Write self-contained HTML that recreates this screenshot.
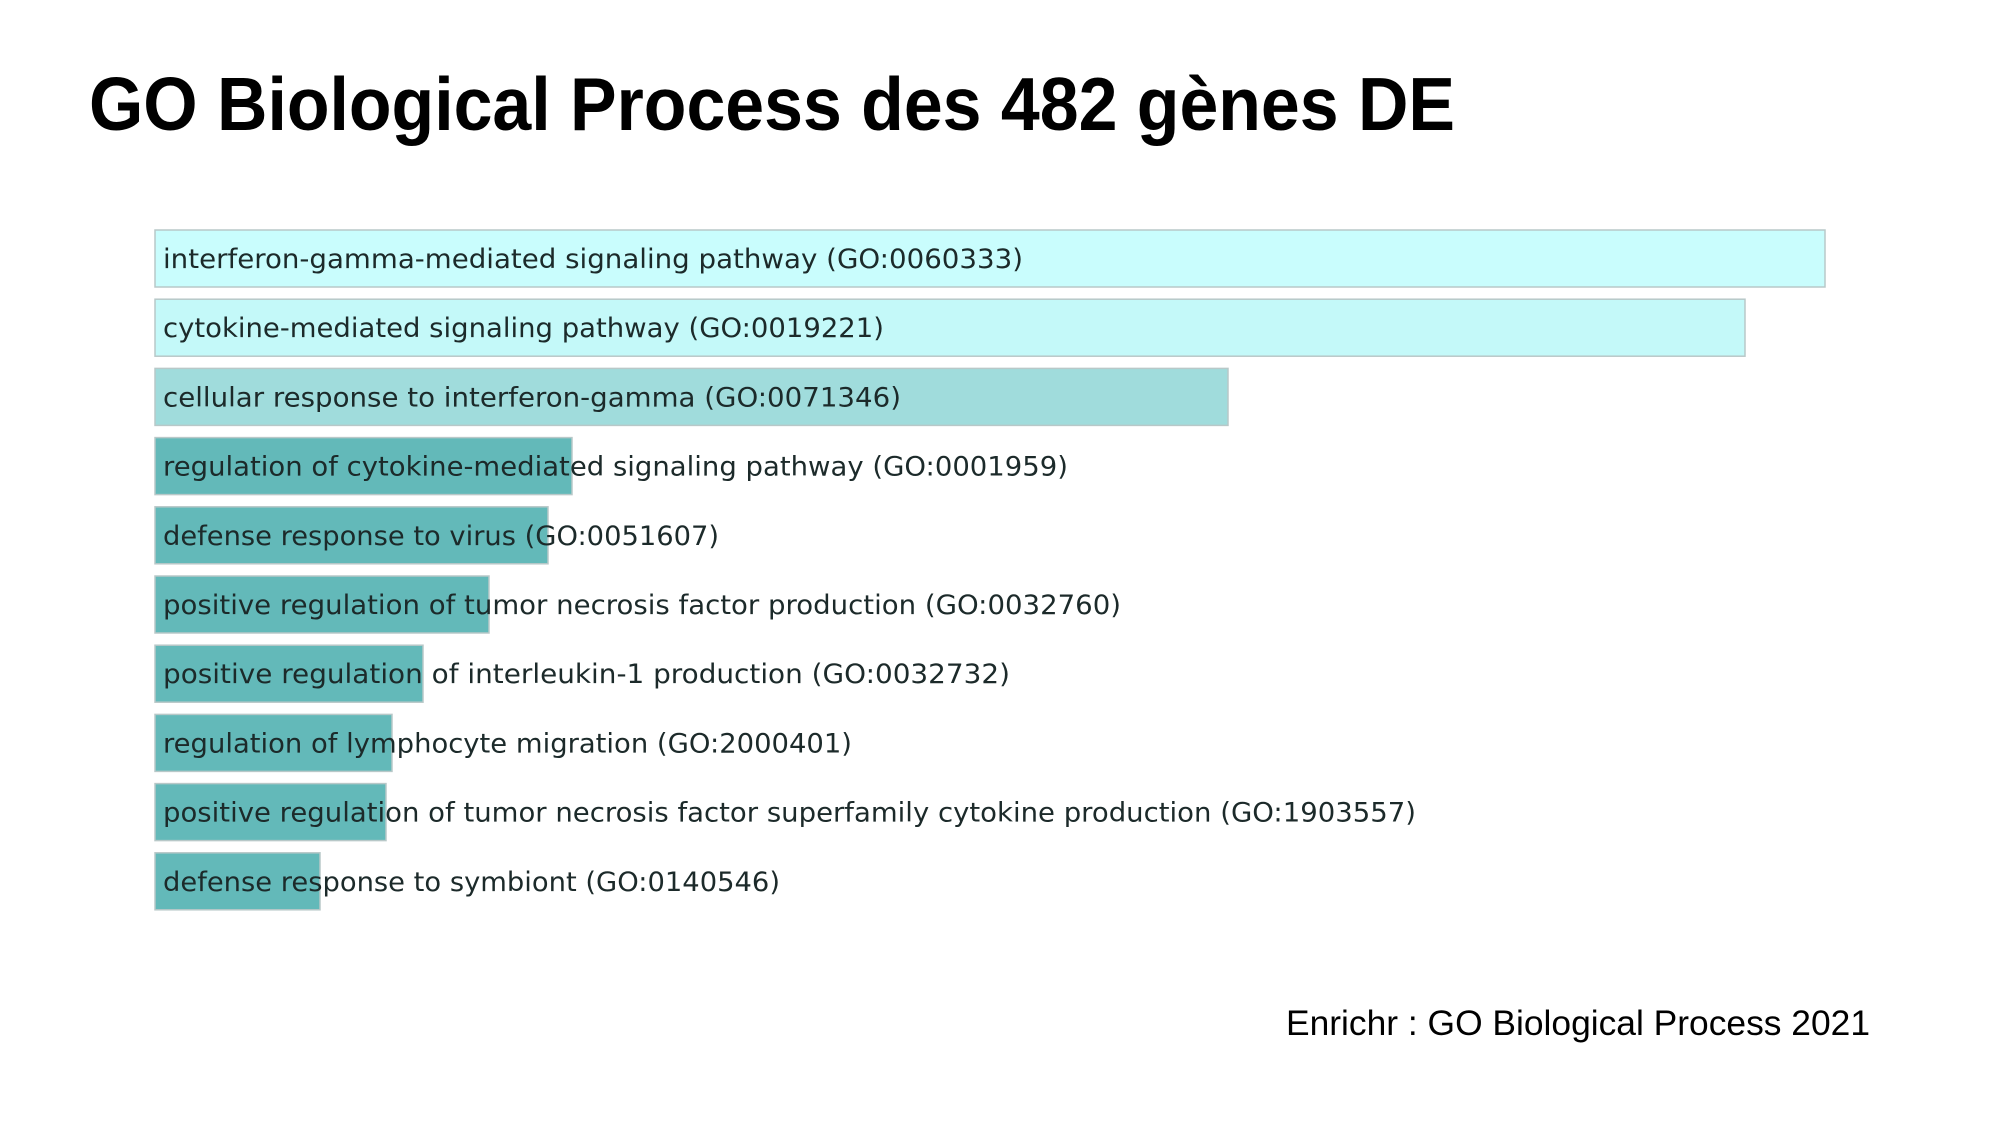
<!DOCTYPE html>
<html><head><meta charset="utf-8"><style>
html,body{margin:0;padding:0;background:#fff;}
svg{display:block;}
</style></head><body>
<svg id="chart" width="2000" height="1125" viewBox="0 0 2000 1125" xmlns="http://www.w3.org/2000/svg">
<rect width="2000" height="1125" fill="#fff"/>
<text x="89" y="130" font-family="Liberation Sans, sans-serif" font-weight="bold" font-size="75" fill="#000" textLength="1366" lengthAdjust="spacingAndGlyphs">GO Biological Process des 482 gènes DE</text>
<g id="bars"></g>
<text x="1286" y="1035" font-family="Liberation Sans, sans-serif" font-size="35" fill="#000" textLength="584" lengthAdjust="spacingAndGlyphs">Enrichr : GO Biological Process 2021</text>
</svg>
<script>
const terms = [
 "interferon-gamma-mediated signaling pathway (GO:0060333)",
 "cytokine-mediated signaling pathway (GO:0019221)",
 "cellular response to interferon-gamma (GO:0071346)",
 "regulation of cytokine-mediated signaling pathway (GO:0001959)",
 "defense response to virus (GO:0051607)",
 "positive regulation of tumor necrosis factor production (GO:0032760)",
 "positive regulation of interleukin-1 production (GO:0032732)",
 "regulation of lymphocyte migration (GO:2000401)",
 "positive regulation of tumor necrosis factor superfamily cytokine production (GO:1903557)",
 "defense response to symbiont (GO:0140546)"
];
const scores = [1670, 1590, 1073, 417, 393, 334, 268, 237, 231, 165];
const labelWidths = [860, 721, 738, 905, 556, 958, 847, 689, 1253, 617];

const x0 = 155, pxPerUnit = 1.0, y0 = 230, pitch = 69.2, barH = 57;
function xScale(v){ return v * pxPerUnit; }
function yScale(i){ return y0 + i * pitch; }
const maxScore = Math.max(...scores);
function colorFor(v){
  const r = v / maxScore;
  if (r > 0.97) return "#c9fdfd";
  if (r > 0.9) return "#c4f9f9";
  if (r > 0.5) return "#a0dcdc";
  return "#63b9b9";
}
const NS = "http://www.w3.org/2000/svg";
const g = document.getElementById("bars");
scores.forEach((v, i) => {
  const rect = document.createElementNS(NS, "rect");
  rect.setAttribute("x", x0);
  rect.setAttribute("y", yScale(i));
  rect.setAttribute("width", xScale(v));
  rect.setAttribute("height", barH);
  rect.setAttribute("fill", colorFor(v));
  rect.setAttribute("stroke", "#b8c8c8");
  rect.setAttribute("stroke-width", "1.5");
  
  
  g.appendChild(rect);
  const t = document.createElementNS(NS, "text");
  t.setAttribute("x", x0 + 8);
  t.setAttribute("y", yScale(i) + 38);
  t.setAttribute("font-family", "DejaVu Sans, sans-serif");
  t.setAttribute("font-size", "27");
  t.setAttribute("fill", "#1c2a2a");
  t.setAttribute("textLength", labelWidths[i]);
  t.setAttribute("lengthAdjust", "spacingAndGlyphs");
  t.textContent = terms[i];
  
  
  g.appendChild(t);
});
</script>
</body></html>
